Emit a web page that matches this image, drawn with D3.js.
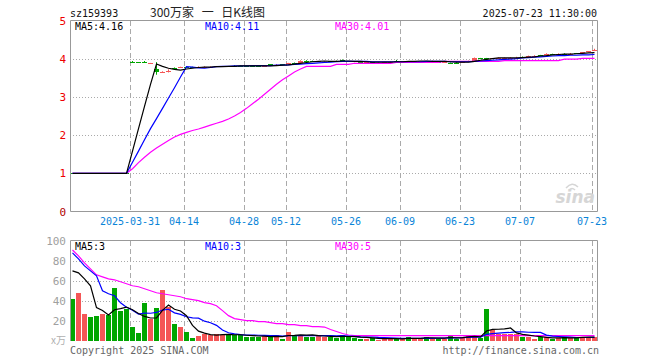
<!DOCTYPE html>
<html><head><meta charset="utf-8">
<script src="https://cdn.jsdelivr.net/npm/d3@7"></script>
<style>body{margin:0;background:#fff;}svg{display:block;}</style>
</head><body>
<svg id="c" width="660" height="360"></svg>
<script>
// ---- data ----
const dates = [
 "03-17","03-18","03-19","03-20","03-21","03-24","03-25","03-26","03-27","03-28","03-31",
 "04-01","04-02","04-03","04-07","04-08","04-09","04-10","04-11","04-14","04-15","04-16","04-17","04-18","04-21","04-22","04-23","04-24","04-25","04-28","04-29","04-30",
 "05-06","05-07","05-08","05-09","05-12","05-13","05-14","05-15","05-16","05-19","05-20","05-21","05-22","05-23","05-26","05-27","05-28","05-29","05-30",
 "06-03","06-04","06-05","06-06","06-09","06-10","06-11","06-12","06-13","06-16","06-17","06-18","06-19","06-20","06-23","06-24","06-25","06-26","06-27","06-30",
 "07-01","07-02","07-03","07-04","07-07","07-08","07-09","07-10","07-11","07-14","07-15","07-16","07-17","07-18","07-21","07-22","07-23"];
const opens = [1,1,1,1,1,1,1,1,1,1,
 3.92,3.92,3.92,3.88,3.72,3.65,3.68,3.75,3.77,3.78,
 3.78,3.78,3.79,3.78,3.79,3.79,3.81,3.81,3.82,3.81,
 3.81,3.81,3.81,3.86,3.84,3.86,3.86,3.89,3.91,3.95,
 3.95,3.93,3.92,3.93,3.94,3.96,3.94,3.93,3.91,3.91,
 3.91,3.90,3.91,3.92,3.95,3.93,3.93,3.93,3.93,3.93,
 3.93,3.92,3.91,3.90,3.90,3.90,3.94,3.95,4.02,4.02,
 4.00,4.01,4.02,4.02,4.03,4.05,4.06,4.07,4.09,4.11,
 4.12,4.12,4.13,4.13,4.15,4.17,4.19,4.24];
const closes = [1,1,1,1,1,1,1,1,1,1,
 3.92,3.92,3.92,3.88,3.64,3.65,3.68,3.75,3.77,3.78,
 3.78,3.78,3.79,3.79,3.81,3.81,3.80,3.81,3.81,3.81,
 3.81,3.80,3.82,3.83,3.84,3.84,3.89,3.89,3.95,3.95,
 3.94,3.93,3.92,3.93,3.94,3.96,3.93,3.91,3.91,3.91,
 3.91,3.90,3.91,3.92,3.95,3.93,3.93,3.93,3.94,3.93,
 3.94,3.92,3.91,3.89,3.90,3.91,3.94,4.02,4.02,4.02,
 4.01,4.02,4.02,4.03,4.03,4.05,4.08,4.08,4.09,4.12,
 4.12,4.12,4.13,4.13,4.15,4.17,4.19,4.24];
const highs = [1,1,1,1,1,1,1,1,1,1,
 3.94,3.92,3.94,3.89,3.91,3.67,3.72,3.77,3.79,3.79,
 3.79,3.80,3.80,3.80,3.81,3.81,3.81,3.83,3.82,3.82,
 3.82,3.81,3.83,3.86,3.86,3.86,3.89,3.90,3.96,3.96,
 3.95,3.94,3.93,3.94,3.95,3.98,3.94,3.93,3.92,3.92,
 3.91,3.91,3.92,3.93,3.97,3.94,3.94,3.94,3.94,3.94,
 3.95,3.93,3.92,3.90,3.91,3.92,3.95,4.03,4.02,4.02,
 4.02,4.03,4.03,4.04,4.05,4.06,4.08,4.09,4.10,4.14,
 4.13,4.14,4.14,4.15,4.15,4.17,4.19,4.26];
const lows = [1,1,1,1,1,1,1,1,1,1,
 3.90,3.92,3.90,3.87,3.58,3.63,3.64,3.73,3.76,3.77,
 3.77,3.77,3.78,3.78,3.78,3.79,3.79,3.80,3.80,3.80,
 3.80,3.79,3.81,3.82,3.83,3.83,3.85,3.88,3.90,3.94,
 3.93,3.92,3.91,3.92,3.93,3.95,3.92,3.91,3.90,3.90,
 3.90,3.89,3.90,3.91,3.94,3.92,3.92,3.92,3.93,3.92,
 3.93,3.91,3.90,3.87,3.89,3.90,3.93,3.95,4.00,4.00,
 4.00,4.01,4.01,4.02,4.02,4.04,4.05,4.07,4.08,4.10,
 4.11,4.11,4.12,4.12,4.13,4.15,4.17,4.20];
// 1 = red (up) day, 0 = green (down) day
const upDays = [0,1,1,0,0,1,0,0,0,0, 0,0,0,1,0,1,1,0,1,0, 0,1,1,1,1,1,0,0,0,0,
 0,0,1,0,1,0,1,0,1,0, 0,1,1,0,0,0,0,0,0,1, 0,1,1,1,0,1,0,1,1,0,
 1,0,1,0,0,1,1,1,0,0, 1,1,1,1,1,0,1,1,0,1, 0,1,0,1,0,1,1,1];
const volumes = [42,48,27,24,24.5,27,26,53,30,32,
 13.6,7.5,38,22,33,51,34,17,13.6,9,
 2.5,5,7,6,6.5,5.5,5.5,5.5,6,4,
 3.5,3.5,5,3.5,5.5,2,9,6,6,4,
 3.5,5,4,4,2.7,5.5,4,2.7,2,2,
 2.7,1,2,2,1.5,2,3.5,2,2,4,
 2,2,2,5,2,3.5,6,4.5,2.3,31.6,
 11,7,6.5,7,6.5,3.5,3.5,2,3.5,3.5,
 1.2,2.7,3.5,2.7,3.5,3.5,3.5,3.5];
const ma5 = [1,1,1,1,1,1,1,1,1,1,
 1.58,2.17,2.75,3.33,3.86,3.80,3.75,3.72,3.70,3.73,
 3.75,3.77,3.78,3.78,3.79,3.79,3.80,3.80,3.81,3.81,
 3.81,3.81,3.81,3.81,3.82,3.83,3.84,3.86,3.88,3.90,
 3.92,3.93,3.94,3.93,3.93,3.94,3.94,3.93,3.93,3.92,
 3.91,3.91,3.91,3.91,3.92,3.92,3.93,3.93,3.94,3.94,
 3.93,3.93,3.93,3.92,3.91,3.91,3.91,3.93,3.96,3.98,
 4.00,4.02,4.02,4.02,4.02,4.03,4.04,4.05,4.07,4.08,
 4.10,4.11,4.12,4.12,4.13,4.14,4.15,4.16];
const ma10 = [1,1,1,1,1,1,1,1,1,1,
 1.29,1.58,1.88,2.17,2.43,2.70,2.97,3.24,3.52,3.79,
 3.78,3.76,3.75,3.77,3.79,3.80,3.80,3.81,3.81,3.81,
 3.82,3.82,3.82,3.82,3.83,3.83,3.84,3.85,3.86,3.87,
 3.88,3.89,3.90,3.91,3.92,3.93,3.93,3.93,3.93,3.93,
 3.92,3.92,3.92,3.92,3.92,3.92,3.92,3.92,3.92,3.93,
 3.93,3.93,3.93,3.92,3.92,3.92,3.92,3.93,3.94,3.95,
 3.96,3.97,3.98,3.99,4.00,4.02,4.03,4.04,4.05,4.06,
 4.07,4.08,4.08,4.09,4.09,4.10,4.10,4.11];
const ma30 = [1,1,1,1,1,1,1,1,1,1,
 1.12,1.28,1.42,1.55,1.66,1.76,1.86,1.95,2.02,2.07,
 2.12,2.16,2.21,2.26,2.31,2.36,2.42,2.50,2.59,2.70,
 2.82,2.94,3.07,3.20,3.33,3.45,3.55,3.65,3.73,3.80,
 3.80,3.80,3.80,3.80,3.85,3.85,3.85,3.88,3.88,3.88,
 3.88,3.88,3.88,3.88,3.90,3.90,3.90,3.90,3.90,3.90,
 3.90,3.90,3.93,3.93,3.93,3.93,3.93,3.93,3.93,3.93,
 3.93,3.93,3.95,3.95,3.95,3.95,3.95,3.95,3.95,3.95,
 3.95,3.95,3.99,3.99,3.99,4.01,4.01,4.01];
const volMa5 = [70,68,62,55,33.1,30.1,25.7,30.9,32.1,33.6,
 30.9,27.2,24.2,22.6,22.8,30.3,35.6,31.4,29.7,24.9,
 15.2,9.4,7.4,5.9,5.4,6.0,6.1,5.8,5.8,5.3,
 4.9,4.5,4.4,3.9,4.2,3.9,5.0,5.2,5.7,5.4,
 5.7,4.9,4.5,4.1,3.8,4.2,4.0,3.8,3.4,3.2,
 2.7,2.1,1.9,1.9,1.8,1.7,2.2,2.2,2.2,2.7,
 2.7,2.4,2.4,3.0,2.6,2.9,3.7,4.2,3.7,9.6,
 11.1,11.3,11.7,12.6,7.6,6.1,5.4,4.5,3.8,3.2,
 2.7,2.6,2.9,2.7,2.7,3.2,3.3,3.3];
const volMa10 = [88,82,75,70,65,50,47,45,38,33.4,
 30.5,26.5,27.6,27.4,28.2,30.6,31.4,27.8,26.2,23.9,
 22.8,22.5,19.4,17.8,15.2,10.6,7.8,6.6,5.9,5.4,
 5.5,5.3,5.1,4.9,4.8,4.4,4.8,4.8,4.8,4.8,
 4.8,5.0,4.9,4.9,4.6,5.0,4.5,4.1,3.7,3.5,
 3.5,3.1,2.9,2.7,2.5,2.2,2.1,2.1,2.1,2.3,
 2.2,2.3,2.3,2.6,2.7,2.8,3.1,3.3,3.3,6.1,
 7.0,7.5,7.9,8.1,8.6,8.6,8.3,8.1,8.2,5.4,
 4.4,4.0,3.7,3.3,3.0,3.0,3.0,3.1];
const volMa30 = [91,85,78,72,66,64,62,61,59,57,
 55,54,52,50,48,47,46,45,44,42,
 41,40,38,37,35,30,25,22,21,20,
 20,19,19,18,17,17,16,16,15,15,
 14,14,13.5,11,9,7,5.5,5,5,5,
 4.8,4.8,4.8,4.8,4.8,4.8,4.8,4.8,4.8,4.8,
 4.8,4.8,4.8,4.8,4.8,4.8,4.8,4.8,4.8,5,
 5,5,5,5,5,5,5,5,5,5,
 5,5,5,5,5,5,5,5];
const tickDates = ["03-31","04-14","04-28","05-12","05-26","06-09","06-23","07-07","07-23"];
const tickLabels = ["2025-03-31","04-14","04-28","05-12","05-26","06-09","06-23","07-07","07-23"];
const priceTicks = [0,1,2,3,4,5];
const volTicks = [20,40,60,80,100];

// ---- drawing ----
const RED = "#f45656", GREEN = "#00a600", GRID = "#aaaaaa", BORDER = "#999999";
const MONO = "'DejaVu Sans Mono', monospace";
const svg = d3.select("#c");
const L = 70, R = 598;
const x = d3.scaleBand().domain(dates).range([L, R]).paddingInner(0).paddingOuter(0);
const bw = x.bandwidth();
const yP = d3.scaleLinear().domain([0, 5]).range([211.5, 20.5]);
const yV = d3.scaleLinear().domain([0, 100]).range([340.5, 241]);
const cx = d => x(d) + 2.5;
const crisp = v => Math.round(v) + 0.5;

const defs = svg.append("defs");
defs.append("clipPath").attr("id", "cp").append("rect").attr("x", L).attr("y", 20).attr("width", 527).attr("height", 192);
defs.append("clipPath").attr("id", "cv").append("rect").attr("x", L).attr("y", 240).attr("width", 527).attr("height", 101);

// header
svg.append("text").attr("x", 70).attr("y", 17).attr("font-family", MONO).attr("font-size", 10).attr("fill", "#111").text("sz159393");
svg.append("text").attr("x", 150).attr("y", 17).attr("font-family", "'Noto Sans CJK SC', sans-serif").attr("font-size", 12)
  .attr("fill", "#222").attr("word-spacing", 5).style("white-space", "pre").text("300万家 一 日K线图");
svg.append("text").attr("x", 597).attr("y", 17).attr("text-anchor", "end").attr("font-family", MONO).attr("font-size", 10).attr("fill", "#111").text("2025-07-23 11:30:00");

// price grid
const gP = svg.append("g");
gP.selectAll(".hg").data(priceTicks.filter(t => t > 0 && t < 5)).enter().append("line")
  .attr("x1", L).attr("x2", 597).attr("y1", d => crisp(yP(d))).attr("y2", d => crisp(yP(d)))
  .attr("stroke", GRID).attr("stroke-dasharray", "1,2");
gP.selectAll(".vg").data(tickDates).enter().append("line")
  .attr("x1", d => x(d) + 0.5).attr("x2", d => x(d) + 0.5).attr("y1", 21).attr("y2", 211)
  .attr("stroke", GRID).attr("stroke-dasharray", "5,3");
// volume grid
const gV = svg.append("g");
gV.selectAll(".hg").data(volTicks.filter(t => t < 100)).enter().append("line")
  .attr("x1", L).attr("x2", 597).attr("y1", d => crisp(yV(d))).attr("y2", d => crisp(yV(d)))
  .attr("stroke", GRID).attr("stroke-dasharray", "1,2");
gV.selectAll(".vg").data(tickDates).enter().append("line")
  .attr("x1", d => x(d) + 0.5).attr("x2", d => x(d) + 0.5).attr("y1", 241).attr("y2", 341)
  .attr("stroke", GRID).attr("stroke-dasharray", "5,3");

// sina watermark
const wm = svg.append("g").attr("fill", "none").attr("stroke", "#d6d6d6");
wm.append("path").attr("d", "M566,188 q6,-7 12,-1").attr("stroke-width", 1.5);
wm.append("path").attr("d", "M569,190 q3,-3 6,0").attr("stroke-width", 1.5);
svg.append("text").attr("x", 595).attr("y", 203).attr("text-anchor", "end").attr("font-family", "'DejaVu Sans', sans-serif")
  .attr("font-size", 17).attr("font-style", "italic").attr("font-weight", "bold").attr("fill", "#d6d6d6").text("sina");

// candles
const cg = svg.append("g").attr("clip-path", "url(#cp)");
dates.forEach((d, i) => {
  const col = upDays[i] ? RED : GREEN;
  cg.append("line").attr("x1", x(d) + 2.5).attr("x2", x(d) + 2.5)
    .attr("y1", yP(highs[i])).attr("y2", yP(lows[i])).attr("stroke", col).attr("stroke-width", 1);
  const y1 = yP(Math.max(opens[i], closes[i])), y2 = yP(Math.min(opens[i], closes[i]));
  const h = Math.max(1, Math.round(y2 - y1));
  cg.append("rect").attr("x", x(d)).attr("y", Math.round(y1)).attr("width", bw - 1).attr("height", h).attr("fill", col);
});

// price MA lines
const lineP = arr => d3.line().x((v, i) => cx(dates[i])).y(v => yP(v))(arr);
const mg = svg.append("g").attr("clip-path", "url(#cp)").attr("fill", "none").attr("stroke-width", 1.2);
mg.append("path").attr("d", lineP(ma30)).attr("stroke", "#ff00ff");
mg.append("path").attr("d", lineP(ma10)).attr("stroke", "#0000ff");
mg.append("path").attr("d", lineP(ma5)).attr("stroke", "#000000");

// volume bars
const vg = svg.append("g").attr("clip-path", "url(#cv)");
vg.selectAll("rect").data(dates).enter().append("rect")
  .attr("x", d => x(d)).attr("width", bw - 1)
  .attr("y", (d, i) => Math.round(yV(volumes[i])))
  .attr("height", (d, i) => 341 - Math.round(yV(volumes[i])))
  .attr("fill", (d, i) => upDays[i] ? RED : GREEN);
const lineV = arr => d3.line().x((v, i) => cx(dates[i])).y(v => yV(v))(arr);
const vmg = svg.append("g").attr("clip-path", "url(#cv)").attr("fill", "none").attr("stroke-width", 1.2);
vmg.append("path").attr("d", lineV(volMa30)).attr("stroke", "#ff00ff");
vmg.append("path").attr("d", lineV(volMa10)).attr("stroke", "#0000ff");
vmg.append("path").attr("d", lineV(volMa5)).attr("stroke", "#000000");

// borders
svg.append("path").attr("d", `M70.5,211.5 V20.5 H597.5 V211.5 H70.5`).attr("fill", "none").attr("stroke", BORDER);
svg.append("path").attr("d", `M70.5,341 V240.5 H597.5 V341`).attr("fill", "none").attr("stroke", BORDER);

// axes labels
svg.selectAll(".pl").data(priceTicks).enter().append("text")
  .attr("x", 66).attr("y", d => yP(d) + 4).attr("text-anchor", "end")
  .attr("font-family", MONO).attr("font-size", 11).attr("fill", d => d === 0 ? "#b00000" : "#ee0000").text(d => d);
svg.selectAll(".vl").data(volTicks).enter().append("text")
  .attr("x", 66).attr("y", d => yV(d) + 4).attr("text-anchor", "end")
  .attr("font-family", MONO).attr("font-size", 11).attr("fill", "#a0a0a0").text(d => d);
svg.append("text").attr("x", 66).attr("y", 344).attr("text-anchor", "end").attr("font-family", "'Noto Sans CJK SC', sans-serif")
  .attr("font-size", 10).attr("fill", "#b0b0b0").text("x万");
svg.selectAll(".xl").data(tickDates).enter().append("text")
  .attr("x", d => x(d)).attr("y", 225).attr("text-anchor", "middle")
  .attr("font-family", MONO).attr("font-size", 10).attr("fill", "#0a84d8").text((d, i) => tickLabels[i]);

// legends
const leg = (xx, yy, col, txt) => svg.append("text").attr("x", xx).attr("y", yy).attr("font-family", MONO)
  .attr("font-size", 10).attr("fill", col).text(txt);
leg(75, 30, "#000", "MA5:" + ma5[ma5.length - 1].toFixed(2));
leg(205, 30, "#0000ff", "MA10:" + ma10[ma10.length - 1].toFixed(2));
leg(335, 30, "#ff00ff", "MA30:" + ma30[ma30.length - 1].toFixed(2));
leg(75, 250, "#000", "MA5:" + Math.round(volMa5[volMa5.length - 1]));
leg(205, 250, "#0000ff", "MA10:" + Math.round(volMa10[volMa10.length - 1]));
leg(335, 250, "#ff00ff", "MA30:" + Math.round(volMa30[volMa30.length - 1]));

// footer
svg.append("text").attr("x", 70).attr("y", 354).attr("font-family", MONO).attr("font-size", 10).attr("fill", "#666").text("Copyright 2025 SINA.COM");
svg.append("text").attr("x", 599).attr("y", 354).attr("text-anchor", "end").attr("font-family", MONO).attr("font-size", 10).attr("fill", "#666").text("http://finance.sina.com.cn");
</script>
</body></html>
